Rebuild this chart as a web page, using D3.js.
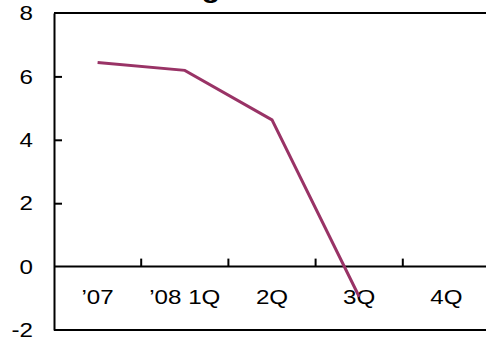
<!DOCTYPE html>
<html>
<head>
<meta charset="utf-8">
<script src="https://cdn.jsdelivr.net/npm/d3@7"></script>
<style>
  body { margin: 0; background: #fff; }
  svg text { font-family: "Liberation Sans", Arial, sans-serif; }
</style>
</head>
<body>
<svg id="chart" width="486" height="337"></svg>
<script>
// data
const quarters = ["\u201907", "\u201908 1Q", "2Q", "3Q", "4Q"];
const growth = [6.44, 6.19, 4.63, -0.95, null];
const yTicks = [-2, 0, 2, 4, 6, 8];
const titleText = "Earnings";

const svg = d3.select('#chart');
const width = +svg.attr('width');
const height = +svg.attr('height');

// the text in the picture is a bit wider than the font
const stretch = 1.15;
const fontSize = 21;

// plot area
const margin = { top: 13, right: -4, bottom: 7, left: 54 };
const innerW = width - margin.left - margin.right;
const innerH = height - margin.top - margin.bottom;

const g = svg.append('g')
  .attr('transform', `translate(${margin.left},${margin.top})`);

const x = d3.scaleBand().domain(quarters).range([0, innerW]);
const y = d3.scaleLinear().domain([-2, 8]).range([innerH, 0]);

// title, mostly cut off by the top edge
const title = svg.append('text')
  .attr('font-size', 26)
  .attr('font-weight', 'bold')
  .attr('fill', '#000')
  .text(titleText);
const gIdx = titleText.indexOf('g');
const off = (title.node().getSubStringLength(0, gIdx) +
  title.node().getSubStringLength(gIdx, 1) / 2) * stretch;
title.attr('transform', `translate(${211 - off},-2) scale(${stretch},1)`);

// y axis with inward ticks
const yAxisG = g.append('g')
  .call(d3.axisLeft(y).tickValues(yTicks).tickSize(-8).tickSizeOuter(0)
    .tickFormat(d => String(d)));
yAxisG.select('.domain').attr('stroke-width', 2);
yAxisG.selectAll('.tick line').attr('stroke-width', 2)
  .filter(d => d === 0 || d === 8 || d === -2).remove();
yAxisG.selectAll('text')
  .attr('font-size', fontSize).attr('fill', '#000')
  .attr('x', -21 / stretch)
  .attr('transform', `scale(${stretch},1)`);

// frame lines at top and bottom
[8, -2].forEach(v => {
  g.append('line')
    .attr('x1', 0).attr('x2', innerW)
    .attr('y1', y(v)).attr('y2', y(v))
    .attr('stroke', '#000').attr('stroke-width', 2);
});

// x axis along zero, ticks between categories pointing up
const xAxisG = g.append('g').attr('transform', `translate(0,${y(0)})`);
xAxisG.append('line')
  .attr('x1', 0).attr('x2', innerW)
  .attr('stroke', '#000').attr('stroke-width', 2);
xAxisG.selectAll('.tk').data(quarters.slice(1))
  .enter().append('line')
  .attr('class', 'tk')
  .attr('x1', d => x(d)).attr('x2', d => x(d))
  .attr('y1', 0).attr('y2', -8)
  .attr('stroke', '#000').attr('stroke-width', 2);
xAxisG.selectAll('.lbl').data(quarters)
  .enter().append('text')
  .attr('class', 'lbl')
  .attr('transform', d => `translate(${x(d) + x.bandwidth() / 2},37) scale(${stretch},1)`)
  .attr('text-anchor', 'middle')
  .attr('font-size', fontSize)
  .attr('fill', '#000')
  .text(d => d);

// the series
const pts = quarters.map((q, i) => ({ q, v: growth[i] }));
const line = d3.line()
  .defined(d => d.v !== null)
  .x(d => x(d.q) + x.bandwidth() / 2)
  .y(d => y(d.v));
g.append('path')
  .datum(pts)
  .attr('d', line)
  .attr('fill', 'none')
  .attr('stroke', '#993366')
  .attr('stroke-width', 3);
</script>
</body>
</html>
